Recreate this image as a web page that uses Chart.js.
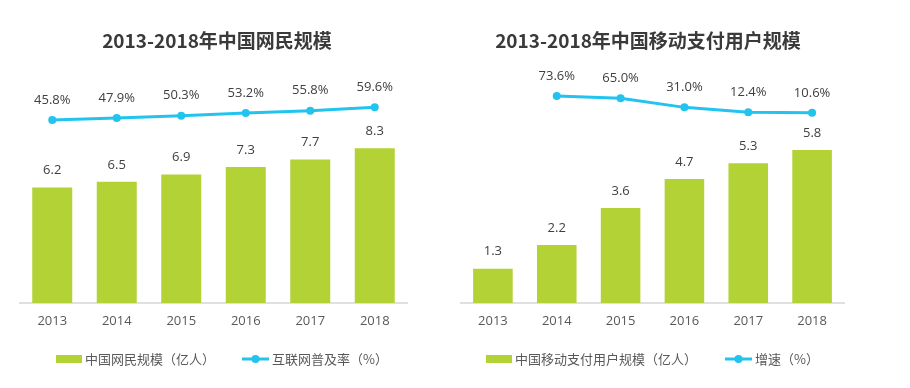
<!DOCTYPE html>
<html>
<head>
<meta charset="utf-8">
<script src="https://cdn.jsdelivr.net/npm/chart.js@4/dist/chart.umd.min.js"></script>
<style>
  body { margin: 0; background: #fff; }
  #wrap { position: relative; width: 910px; height: 388px; }
  .box { position: absolute; top: 0; width: 455px; height: 388px; }
</style>
</head>
<body>
<div id="wrap">
  <div class="box" style="left:0"><canvas id="c1" width="455" height="388"></canvas></div>
  <div class="box" style="left:455px"><canvas id="c2" width="455" height="388"></canvas></div>
</div>
<script>
// datos
const years = ['2013', '2014', '2015', '2016', '2017', '2018'];
const netUsers = [6.2, 6.5, 6.9, 7.3, 7.7, 8.3];
const netRate = [45.8, 47.9, 50.3, 53.2, 55.8, 59.6];
const payUsers = [1.3, 2.2, 3.6, 4.7, 5.3, 5.8];
const payGrowth = [null, 73.6, 65.0, 31.0, 12.4, 10.6];

const title1 = '2013-2018年中国网民规模';
const title2 = '2013-2018年中国移动支付用户规模';
const legend1 = ['中国网民规模（亿人）', '互联网普及率（%）'];
const legend2 = ['中国移动支付用户规模（亿人）', '增速（%）'];

const GREEN = '#b2d235';
const BLUE = '#22c4ef';
const TEXT = '#404040';
const NUMFONT = '"Open Sans", "Noto Sans CJK SC", sans-serif';
const CJKFONT = '"Noto Sans CJK SC", sans-serif';

// plugin: titulo, etiquetas y leyenda
const decor = {
  id: 'decor',
  afterDraw(chart) {
    const ctx = chart.ctx;
    const o = chart.options.plugins.decor;
    ctx.save();

    // titulo
    ctx.fillStyle = '#3a3a3a';
    ctx.font = 'bold 19px ' + CJKFONT;
    ctx.textAlign = 'center';
    ctx.textBaseline = 'middle';
    ctx.fillText(o.title, o.titleX, 41);

    // etiquetas de barras
    ctx.fillStyle = TEXT;
    ctx.font = '13px ' + NUMFONT;
    const bars = chart.getDatasetMeta(0).data;
    bars.forEach((b, i) => {
      const v = chart.data.datasets[0].data[i];
      ctx.fillText(v.toFixed(1), b.x, b.y - 17);
    });

    // etiquetas de la linea
    const pts = chart.getDatasetMeta(1).data;
    pts.forEach((p, i) => {
      const v = chart.data.datasets[1].data[i];
      if (v === null) return;
      ctx.fillText(v.toFixed(1) + '%', p.x, p.y - 20);
    });

    // leyenda
    const ly = 359;
    ctx.font = '13px ' + CJKFONT;
    ctx.textAlign = 'left';
    ctx.fillStyle = GREEN;
    ctx.fillRect(o.leg[0], ly - 4, 26, 8);
    ctx.fillStyle = '#595959';
    ctx.fillText(chart.data.datasets[0].label, o.leg[0] + 29, ly);

    ctx.strokeStyle = BLUE;
    ctx.lineWidth = 3;
    ctx.beginPath();
    ctx.moveTo(o.leg[1], ly);
    ctx.lineTo(o.leg[1] + 27, ly);
    ctx.stroke();
    ctx.fillStyle = BLUE;
    ctx.beginPath();
    ctx.arc(o.leg[1] + 13.5, ly, 4, 0, 2 * Math.PI);
    ctx.fill();
    ctx.fillStyle = '#595959';
    ctx.fillText(chart.data.datasets[1].label, o.leg[1] + 30, ly);

    ctx.restore();
  }
};

function crearGrafico(id, bars, line, labels, cfg) {
  return new Chart(document.getElementById(id), {
    type: 'bar',
    data: {
      labels: years,
      datasets: [
        {
          label: labels[0],
          data: bars,
          backgroundColor: GREEN,
          categoryPercentage: 1,
          barPercentage: 0.62,
          yAxisID: 'y',
          order: 2
        },
        {
          type: 'line',
          label: labels[1],
          data: line,
          borderColor: BLUE,
          backgroundColor: BLUE,
          borderWidth: 3,
          pointRadius: 4,
          pointBackgroundColor: BLUE,
          pointBorderWidth: 0,
          spanGaps: false,
          yAxisID: 'y1',
          order: 1
        }
      ]
    },
    options: {
      responsive: false,
      animation: false,
      layout: { padding: { left: cfg.left, right: cfg.right, top: 70, bottom: 55 } },
      plugins: {
        legend: { display: false },
        tooltip: { enabled: false },
        decor: cfg
      },
      scales: {
        x: {
          grid: { display: false, drawTicks: false },
          border: { display: true, color: '#e0e0e0', width: 2 },
          ticks: { color: '#595959', font: { family: NUMFONT, size: 13 }, padding: 10 },
          afterFit: (s) => { s.height = 30; }
        },
        y: { display: false, min: 0, max: cfg.ymax },
        y1: { display: false, min: cfg.y1min, max: cfg.y1max }
      }
    },
    plugins: [decor]
  });
}

crearGrafico('c1', netUsers, netRate, legend1, {
  left: 20, right: 48, ymax: 12.5, y1min: -153, y1max: 100,
  title: title1, titleX: 217, leg: [56, 242]
});
crearGrafico('c2', payUsers, payGrowth, legend2, {
  left: 6, right: 66, ymax: 8.83, y1min: -702, y1max: 171,
  title: title2, titleX: 193, leg: [31, 270]
});
</script>
</body>
</html>
